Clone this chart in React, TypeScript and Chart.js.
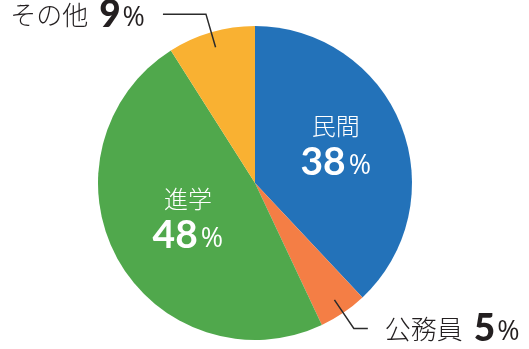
import { useEffect, useRef } from "react";
import { Chart, registerables } from "chart.js";

Chart.register(...registerables);

const categories = ["民間", "公務員", "進学", "その他"];
const values = [38, 5, 48, 9];
const colors = ["#2372b9", "#f47e45", "#50a84c", "#f9b132"];

// label styling per slice (placement style only)
const labelStyles = [
  { mode: "inside", r: 0.57, angleShift: -0.07, dx: 0, dy: 0 },
  { mode: "outside", side: "right", hLen: 14 },
  { mode: "inside", r: 0.48, angleShift: 0.03, dx: 0, dy: 0 },
  { mode: "outside", side: "left", hLen: 43 },
];

const JP = '"Noto Sans CJK JP", "Noto Sans", sans-serif';
const NUM = 'Lato, "Open Sans", sans-serif';
const PCT = '"Open Sans", Lato, sans-serif';

const labelPlugin = {
  id: "pieLabels",
  afterDatasetsDraw(chart: any) {
    const ctx: CanvasRenderingContext2D = chart.ctx;
    const meta = chart.getDatasetMeta(0);
    meta.data.forEach((arc: any, i: number) => {
      const p = arc.getProps(["x", "y", "startAngle", "endAngle", "outerRadius"], true);
      const st: any = labelStyles[i];
      const mid = (p.startAngle + p.endAngle) / 2;
      const R = p.outerRadius;
      const name = categories[i];
      const num = String(values[i]);
      ctx.save();
      if (st.mode === "inside") {
        const a = mid + st.angleShift;
        const ax = p.x + Math.cos(a) * R * st.r + st.dx;
        const ay = p.y + Math.sin(a) * R * st.r + st.dy;
        ctx.fillStyle = "#ffffff";
        ctx.textAlign = "center";
        ctx.textBaseline = "middle";
        ctx.font = `300 24px ${JP}`;
        ctx.fillText(name, ax, ay - 18);
        ctx.textBaseline = "alphabetic";
        ctx.textAlign = "left";
        const numFont = `700 39px ${NUM}`;
        const pctFont = `400 27px ${PCT}`;
        ctx.font = numFont;
        const wNum = ctx.measureText(num).width;
        ctx.font = pctFont;
        const wPct = ctx.measureText("%").width;
        const gap = 3;
        const x0 = ax - (wNum + gap + wPct) / 2;
        ctx.font = numFont;
        ctx.fillText(num, x0, ay + 31);
        ctx.font = pctFont;
        ctx.fillText("%", x0 + wNum + gap, ay + 30);
      } else {
        const sx = p.x + Math.cos(mid) * R * 0.9;
        const sy = p.y + Math.sin(mid) * R * 0.9;
        const ex = p.x + Math.cos(mid) * R * 1.12;
        const ey = p.y + Math.sin(mid) * R * 1.12;
        const dir = st.side === "left" ? -1 : 1;
        const hx = ex + dir * st.hLen;
        ctx.strokeStyle = "#2b2b2b";
        ctx.lineWidth = 1.5;
        ctx.beginPath();
        ctx.moveTo(sx, sy);
        ctx.lineTo(ex, ey);
        ctx.lineTo(hx, ey);
        ctx.stroke();
        ctx.fillStyle = "#231f20";
        ctx.textBaseline = "alphabetic";
        ctx.textAlign = "left";
        const base = ey + 13;
        const nameFont = `300 26px ${JP}`;
        const numFont = `900 37px ${NUM}`;
        const pctFont = `400 27px ${PCT}`;
        ctx.font = nameFont;
        const wName = ctx.measureText(name).width;
        ctx.font = numFont;
        const wNum = ctx.measureText(num).width;
        ctx.font = pctFont;
        const wPct = ctx.measureText("%").width;
        const sp = 11;
        const gap = 2;
        const total = wName + sp + wNum + gap + wPct;
        const x0 = st.side === "left" ? hx - 18 - total : hx + 17;
        ctx.font = nameFont;
        ctx.fillText(name, x0, base - 2);
        ctx.font = numFont;
        ctx.fillText(num, x0 + wName + sp, base);
        ctx.font = pctFont;
        ctx.fillText("%", x0 + wName + sp + wNum + gap, base - 1);
      }
      ctx.restore();
    });
  },
};

export default function App() {
  const ref = useRef<HTMLCanvasElement>(null);
  useEffect(() => {
    if (!ref.current) return;
    const chart = new Chart(ref.current, {
      type: "pie",
      data: {
        labels: categories,
        datasets: [
          {
            data: values,
            backgroundColor: colors,
            borderWidth: 0,
          },
        ],
      },
      options: {
        responsive: false,
        animation: false,
        layout: { padding: { left: 98, right: 117, top: 26, bottom: 9 } },
        plugins: {
          legend: { display: false },
          tooltip: { enabled: false },
        },
      },
      plugins: [labelPlugin],
    });
    return () => chart.destroy();
  }, []);
  return (
    <div style={{ position: "fixed", left: 0, top: 0, width: 529, height: 349, background: "#fff" }}>
      <canvas ref={ref} width={529} height={349} style={{ width: 529, height: 349 }} />
    </div>
  );
}
